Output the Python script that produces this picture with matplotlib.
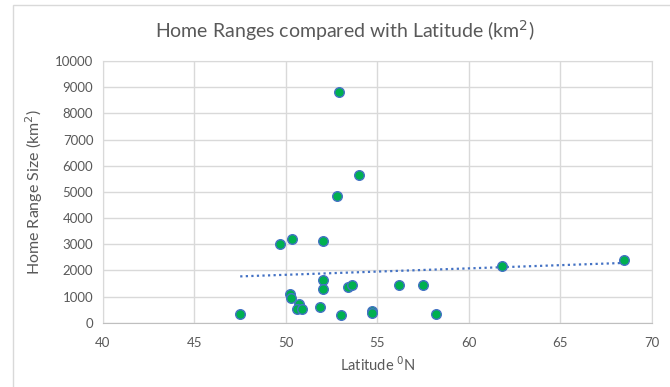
import numpy as np
import matplotlib
matplotlib.use("Agg")
import matplotlib.pyplot as plt
from matplotlib.patches import Rectangle

# Latitude (deg N) and home range size (km2)
latitude = [52.9, 54.0, 52.8, 49.7, 50.35, 52.0, 52.0, 52.0, 53.4, 53.6,
            50.2, 50.25, 50.7, 50.6, 50.9, 51.85, 53.0, 54.7, 54.7, 47.5,
            56.2, 57.5, 58.2, 61.8, 68.5]
home_range = [8800, 5650, 4850, 3000, 3200, 3120, 1650, 1280, 1380, 1440,
              1110, 950, 700, 520, 510, 610, 300, 430, 380, 350,
              1440, 1440, 320, 2150, 2400]

x_ticks = [40, 45, 50, 55, 60, 65, 70]
y_ticks = list(range(0, 10001, 1000))

GREY = "#595959"
GRID = "#d9d9d9"

plt.rcParams["font.family"] = ["Lato", "DejaVu Sans"]

fig = plt.figure(figsize=(6.7, 3.87), dpi=100)
ax = fig.add_axes([0.1537, 0.1661, 0.8193, 0.6763])

# outer chart frame
fig.patches.append(Rectangle((13 / 670, -0.1), 1.2, 1.1 - 5 / 387,
                             transform=fig.transFigure, fill=False,
                             edgecolor=GRID, linewidth=1.0))

ax.scatter(latitude, home_range, s=48, color="#00b050",
           edgecolor="#4472c4", linewidth=1.0, zorder=3)

# linear trendline, like the Excel one
k, n = np.polyfit(latitude, home_range, 1)
xs = np.array([min(latitude), max(latitude)])
ax.plot(xs, k * xs + n, linestyle=(0, (1, 1.5)), color="#4472c4",
        linewidth=1.6, zorder=2)

ax.set_xlim(40, 70)
ax.set_ylim(0, 10000)
ax.set_xticks(x_ticks)
ax.set_yticks(y_ticks)
ax.grid(True, color=GRID, linewidth=1.0, zorder=0)
ax.set_axisbelow(True)
for s in ax.spines.values():
    s.set_color(GRID)
ax.spines["bottom"].set_color("#bfbfbf")
ax.tick_params(axis="y", length=0, labelsize=9.5, colors=GREY, pad=7)
ax.tick_params(axis="x", length=0, labelsize=9.5, colors=GREY, pad=10)

ax.set_xlabel("Latitude $^{0}$N", fontsize=10.5, color=GREY)
ax.xaxis.set_label_coords(0.5, -0.123)
ax.set_ylabel("Home Range Size (km$^{2}$)", fontsize=11.5, color=GREY)
ax.yaxis.set_label_coords(-0.106, 0.5)
fig.text(0.515, 0.92, "Home Ranges compared with Latitude (km$^{2}$)",
         ha="center", va="center", fontsize=14, color=GREY)

fig.savefig("out.png", dpi=100)
